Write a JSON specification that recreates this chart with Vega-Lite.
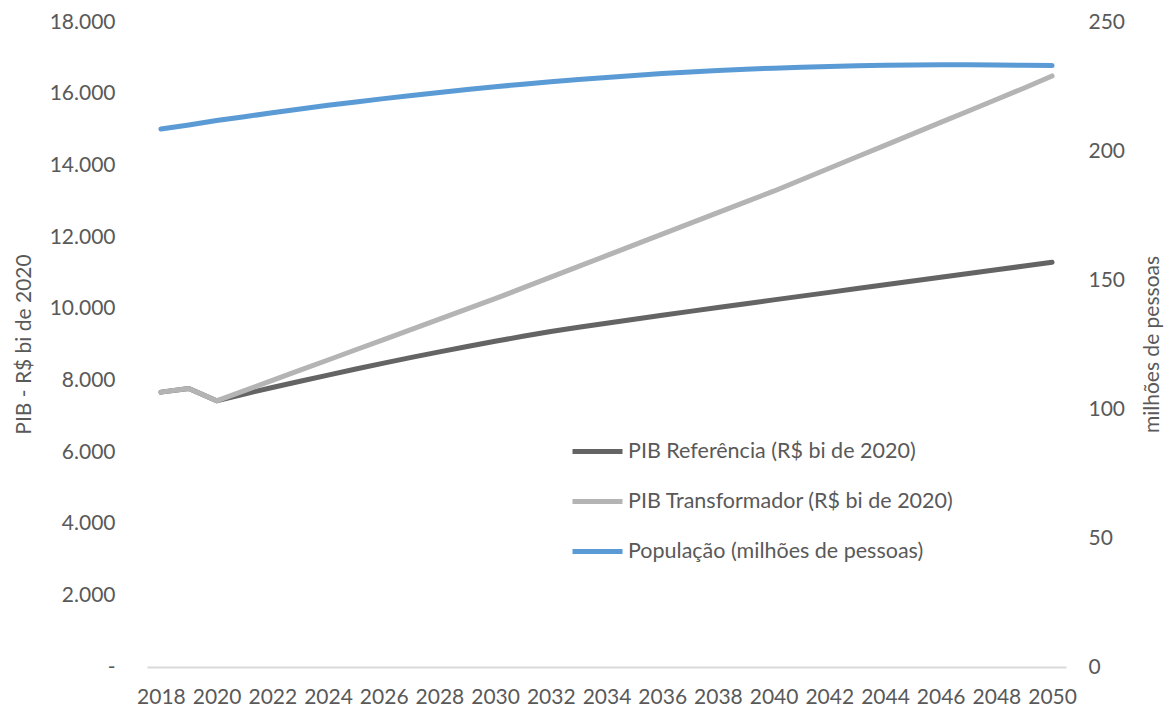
{
  "$schema": "https://vega.github.io/schema/vega-lite/v6.json",
  "width": 919,
  "height": 645,
  "autosize": {"type": "none"},
  "padding": {"left": 147, "top": 22, "right": 105, "bottom": 42},
  "background": "white",
  "config": {
    "view": {"stroke": null},
    "font": "Lato",
    "axis": {"labelFont": "Lato", "titleFont": "Lato", "labelColor": "#595959", "titleColor": "#595959", "labelFontSize": 21, "titleFontSize": 21, "titleFontWeight": "normal", "grid": false, "ticks": false},
    "legend": {"labelFont": "Lato", "labelFontSize": 21.5, "labelColor": "#595959"}
  },
  "data": {
    "values": [
      {"ano": 2018, "serie": "PIB Referência (R$ bi de 2020)", "valor": 7671},
      {"ano": 2019, "serie": "PIB Referência (R$ bi de 2020)", "valor": 7771},
      {"ano": 2020, "serie": "PIB Referência (R$ bi de 2020)", "valor": 7428},
      {"ano": 2021, "serie": "PIB Referência (R$ bi de 2020)", "valor": 7620},
      {"ano": 2022, "serie": "PIB Referência (R$ bi de 2020)", "valor": 7800},
      {"ano": 2023, "serie": "PIB Referência (R$ bi de 2020)", "valor": 7975},
      {"ano": 2024, "serie": "PIB Referência (R$ bi de 2020)", "valor": 8145},
      {"ano": 2025, "serie": "PIB Referência (R$ bi de 2020)", "valor": 8315},
      {"ano": 2026, "serie": "PIB Referência (R$ bi de 2020)", "valor": 8480},
      {"ano": 2027, "serie": "PIB Referência (R$ bi de 2020)", "valor": 8640},
      {"ano": 2028, "serie": "PIB Referência (R$ bi de 2020)", "valor": 8795},
      {"ano": 2029, "serie": "PIB Referência (R$ bi de 2020)", "valor": 8945},
      {"ano": 2030, "serie": "PIB Referência (R$ bi de 2020)", "valor": 9090},
      {"ano": 2031, "serie": "PIB Referência (R$ bi de 2020)", "valor": 9230},
      {"ano": 2032, "serie": "PIB Referência (R$ bi de 2020)", "valor": 9365},
      {"ano": 2033, "serie": "PIB Referência (R$ bi de 2020)", "valor": 9480},
      {"ano": 2034, "serie": "PIB Referência (R$ bi de 2020)", "valor": 9595},
      {"ano": 2035, "serie": "PIB Referência (R$ bi de 2020)", "valor": 9705},
      {"ano": 2036, "serie": "PIB Referência (R$ bi de 2020)", "valor": 9815},
      {"ano": 2037, "serie": "PIB Referência (R$ bi de 2020)", "valor": 9925},
      {"ano": 2038, "serie": "PIB Referência (R$ bi de 2020)", "valor": 10035},
      {"ano": 2039, "serie": "PIB Referência (R$ bi de 2020)", "valor": 10140},
      {"ano": 2040, "serie": "PIB Referência (R$ bi de 2020)", "valor": 10245},
      {"ano": 2041, "serie": "PIB Referência (R$ bi de 2020)", "valor": 10350},
      {"ano": 2042, "serie": "PIB Referência (R$ bi de 2020)", "valor": 10455},
      {"ano": 2043, "serie": "PIB Referência (R$ bi de 2020)", "valor": 10560},
      {"ano": 2044, "serie": "PIB Referência (R$ bi de 2020)", "valor": 10665},
      {"ano": 2045, "serie": "PIB Referência (R$ bi de 2020)", "valor": 10770},
      {"ano": 2046, "serie": "PIB Referência (R$ bi de 2020)", "valor": 10875},
      {"ano": 2047, "serie": "PIB Referência (R$ bi de 2020)", "valor": 10980},
      {"ano": 2048, "serie": "PIB Referência (R$ bi de 2020)", "valor": 11085},
      {"ano": 2049, "serie": "PIB Referência (R$ bi de 2020)", "valor": 11190},
      {"ano": 2050, "serie": "PIB Referência (R$ bi de 2020)", "valor": 11295},
      {"ano": 2018, "serie": "PIB Transformador (R$ bi de 2020)", "valor": 7671},
      {"ano": 2019, "serie": "PIB Transformador (R$ bi de 2020)", "valor": 7771},
      {"ano": 2020, "serie": "PIB Transformador (R$ bi de 2020)", "valor": 7428},
      {"ano": 2021, "serie": "PIB Transformador (R$ bi de 2020)", "valor": 7713},
      {"ano": 2022, "serie": "PIB Transformador (R$ bi de 2020)", "valor": 7998},
      {"ano": 2023, "serie": "PIB Transformador (R$ bi de 2020)", "valor": 8283},
      {"ano": 2024, "serie": "PIB Transformador (R$ bi de 2020)", "valor": 8568},
      {"ano": 2025, "serie": "PIB Transformador (R$ bi de 2020)", "valor": 8853},
      {"ano": 2026, "serie": "PIB Transformador (R$ bi de 2020)", "valor": 9138},
      {"ano": 2027, "serie": "PIB Transformador (R$ bi de 2020)", "valor": 9423},
      {"ano": 2028, "serie": "PIB Transformador (R$ bi de 2020)", "valor": 9708},
      {"ano": 2029, "serie": "PIB Transformador (R$ bi de 2020)", "valor": 9993},
      {"ano": 2030, "serie": "PIB Transformador (R$ bi de 2020)", "valor": 10278},
      {"ano": 2031, "serie": "PIB Transformador (R$ bi de 2020)", "valor": 10578},
      {"ano": 2032, "serie": "PIB Transformador (R$ bi de 2020)", "valor": 10878},
      {"ano": 2033, "serie": "PIB Transformador (R$ bi de 2020)", "valor": 11178},
      {"ano": 2034, "serie": "PIB Transformador (R$ bi de 2020)", "valor": 11478},
      {"ano": 2035, "serie": "PIB Transformador (R$ bi de 2020)", "valor": 11778},
      {"ano": 2036, "serie": "PIB Transformador (R$ bi de 2020)", "valor": 12078},
      {"ano": 2037, "serie": "PIB Transformador (R$ bi de 2020)", "valor": 12378},
      {"ano": 2038, "serie": "PIB Transformador (R$ bi de 2020)", "valor": 12678},
      {"ano": 2039, "serie": "PIB Transformador (R$ bi de 2020)", "valor": 12978},
      {"ano": 2040, "serie": "PIB Transformador (R$ bi de 2020)", "valor": 13278},
      {"ano": 2041, "serie": "PIB Transformador (R$ bi de 2020)", "valor": 13598},
      {"ano": 2042, "serie": "PIB Transformador (R$ bi de 2020)", "valor": 13918},
      {"ano": 2043, "serie": "PIB Transformador (R$ bi de 2020)", "valor": 14238},
      {"ano": 2044, "serie": "PIB Transformador (R$ bi de 2020)", "valor": 14558},
      {"ano": 2045, "serie": "PIB Transformador (R$ bi de 2020)", "valor": 14878},
      {"ano": 2046, "serie": "PIB Transformador (R$ bi de 2020)", "valor": 15198},
      {"ano": 2047, "serie": "PIB Transformador (R$ bi de 2020)", "valor": 15518},
      {"ano": 2048, "serie": "PIB Transformador (R$ bi de 2020)", "valor": 15838},
      {"ano": 2049, "serie": "PIB Transformador (R$ bi de 2020)", "valor": 16158},
      {"ano": 2050, "serie": "PIB Transformador (R$ bi de 2020)", "valor": 16494},
      {"ano": 2018, "serie": "População (milhões de pessoas)", "valor": 208.5},
      {"ano": 2019, "serie": "População (milhões de pessoas)", "valor": 210.1},
      {"ano": 2020, "serie": "População (milhões de pessoas)", "valor": 211.8},
      {"ano": 2021, "serie": "População (milhões de pessoas)", "valor": 213.3},
      {"ano": 2022, "serie": "População (milhões de pessoas)", "valor": 214.8},
      {"ano": 2023, "serie": "População (milhões de pessoas)", "valor": 216.3},
      {"ano": 2024, "serie": "População (milhões de pessoas)", "valor": 217.7},
      {"ano": 2025, "serie": "População (milhões de pessoas)", "valor": 219.0},
      {"ano": 2026, "serie": "População (milhões de pessoas)", "valor": 220.3},
      {"ano": 2027, "serie": "População (milhões de pessoas)", "valor": 221.5},
      {"ano": 2028, "serie": "População (milhões de pessoas)", "valor": 222.7},
      {"ano": 2029, "serie": "População (milhões de pessoas)", "valor": 223.8},
      {"ano": 2030, "serie": "População (milhões de pessoas)", "valor": 224.9},
      {"ano": 2031, "serie": "População (milhões de pessoas)", "valor": 225.9},
      {"ano": 2032, "serie": "População (milhões de pessoas)", "valor": 226.8},
      {"ano": 2033, "serie": "População (milhões de pessoas)", "valor": 227.7},
      {"ano": 2034, "serie": "População (milhões de pessoas)", "valor": 228.5},
      {"ano": 2035, "serie": "População (milhões de pessoas)", "valor": 229.3},
      {"ano": 2036, "serie": "População (milhões de pessoas)", "valor": 230.0},
      {"ano": 2037, "serie": "População (milhões de pessoas)", "valor": 230.6},
      {"ano": 2038, "serie": "População (milhões de pessoas)", "valor": 231.2},
      {"ano": 2039, "serie": "População (milhões de pessoas)", "valor": 231.7},
      {"ano": 2040, "serie": "População (milhões de pessoas)", "valor": 232.1},
      {"ano": 2041, "serie": "População (milhões de pessoas)", "valor": 232.5},
      {"ano": 2042, "serie": "População (milhões de pessoas)", "valor": 232.8},
      {"ano": 2043, "serie": "População (milhões de pessoas)", "valor": 233.0},
      {"ano": 2044, "serie": "População (milhões de pessoas)", "valor": 233.2},
      {"ano": 2045, "serie": "População (milhões de pessoas)", "valor": 233.3},
      {"ano": 2046, "serie": "População (milhões de pessoas)", "valor": 233.4},
      {"ano": 2047, "serie": "População (milhões de pessoas)", "valor": 233.4},
      {"ano": 2048, "serie": "População (milhões de pessoas)", "valor": 233.3},
      {"ano": 2049, "serie": "População (milhões de pessoas)", "valor": 233.2},
      {"ano": 2050, "serie": "População (milhões de pessoas)", "valor": 233.1}
    ]
  },
  "encoding": {
    "x": {
      "field": "ano", "type": "quantitative",
      "scale": {"domain": [2017.5, 2050.5], "nice": false, "zero": false},
      "axis": {
        "title": null,
        "values": [2018, 2020, 2022, 2024, 2026, 2028, 2030, 2032, 2034, 2036, 2038, 2040, 2042, 2044, 2046, 2048, 2050],
        "format": "d", "labelPadding": 19, "domainColor": "#d9d9d9", "domainWidth": 2, "labelFlush": false, "labelOverlap": false
      }
    },
    "color": {
      "field": "serie", "type": "nominal",
      "scale": {
        "domain": ["PIB Referência (R$ bi de 2020)", "PIB Transformador (R$ bi de 2020)", "População (milhões de pessoas)"],
        "range": ["#646464", "#b4b4b4", "#5b9bd5"]
      },
      "legend": {
        "title": null, "orient": "none", "legendX": 423, "legendY": 402,
        "symbolType": "stroke", "symbolSize": 2500, "symbolStrokeWidth": 5,
        "labelOffset": 3, "rowPadding": 12, "labelLimit": 500
      }
    }
  },
  "layer": [
    {
      "layer": [
        {
          "transform": [{"filter": "datum.serie == 'PIB Referência (R$ bi de 2020)'"}],
          "mark": {"type": "line", "strokeWidth": 5, "strokeCap": "round", "strokeJoin": "round"},
          "encoding": {
            "y": {
              "field": "valor", "type": "quantitative",
              "scale": {"domain": [0, 18000], "nice": false},
              "axis": {
                "title": "PIB - R$ bi de 2020",
                "values": [0, 2000, 4000, 6000, 8000, 10000, 12000, 14000, 16000, 18000],
                "labelExpr": "datum.value == 0 ? '-' : replace(format(datum.value, ','), ',', '.')",
                "domain": false, "labelPadding": 32,
                "titleAngle": 270, "titleX": -123, "titleY": 322, "titleBaseline": "middle", "titleAlign": "center"
              }
            }
          }
        },
        {
          "transform": [{"filter": "datum.serie == 'PIB Transformador (R$ bi de 2020)'"}],
          "mark": {"type": "line", "strokeWidth": 5, "strokeCap": "round", "strokeJoin": "round"},
          "encoding": {
            "y": {"field": "valor", "type": "quantitative"}
          }
        }
      ]
    },
    {
      "transform": [{"filter": "datum.serie == 'População (milhões de pessoas)'"}],
      "mark": {"type": "line", "strokeWidth": 5, "strokeCap": "round", "strokeJoin": "round"},
      "encoding": {
        "y": {
          "field": "valor", "type": "quantitative",
          "scale": {"domain": [0, 250], "nice": false},
          "axis": {
            "orient": "right", "title": "milhões de pessoas",
            "values": [0, 50, 100, 150, 200, 250],
            "domain": false, "labelPadding": 22,
            "titleAngle": 270, "titleX": 86, "titleY": 322, "titleBaseline": "middle", "titleAlign": "center"
          }
        }
      }
    }
  ],
  "resolve": {"scale": {"y": "independent"}}
}
